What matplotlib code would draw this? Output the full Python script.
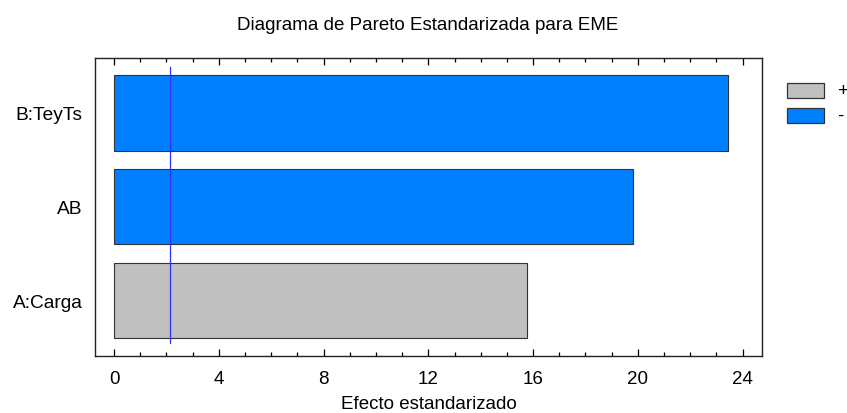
import matplotlib
matplotlib.use("Agg")
import matplotlib.pyplot as plt
from matplotlib.patches import Rectangle
from matplotlib.ticker import MultipleLocator

plt.rcParams["font.family"] = ["Liberation Sans", "DejaVu Sans"]

# standardized effects, smallest first so the largest sits on top
factors = ["A:Carga", "AB", "B:TeyTs"]
effects = [15.75, 19.83, 23.43]
signs = ["+", "-", "-"]
critical_t = 2.12

sign_colors = {"+": "#C0C0C0", "-": "#0080FF"}
edge = "#333333"
W, H = 847, 414

fig = plt.figure(figsize=(W / 100, H / 100), dpi=100)
ax = fig.add_axes([95 / W, 1 - 356.7 / H, (762 - 95) / W, (356.7 - 59) / H])

ypos = range(len(factors))
ax.barh(ypos, effects, height=0.8,
        color=[sign_colors[s] for s in signs], edgecolor=edge, linewidth=0.8)
ax.plot([critical_t, critical_t], [-0.45, 2.49], color="#3030FF", linewidth=0.9)

ax.set_xlim(-0.73, 24.74)
ax.set_ylim(-0.585, 2.585)
ax.set_yticks(list(ypos))
ax.set_yticklabels(factors, fontsize=13.8)
ax.xaxis.set_major_locator(MultipleLocator(4))
ax.xaxis.set_minor_locator(MultipleLocator(1))
ax.tick_params(axis="x", which="both", direction="in", top=True, labelsize=13.5, pad=10)
ax.tick_params(axis="x", which="major", length=5, width=0.9)
ax.tick_params(axis="x", which="minor", length=3, width=0.9)
ax.tick_params(axis="y", length=0, pad=9)
for sp in ax.spines.values():
    sp.set_linewidth(1.0)
    sp.set_color("#222222")

ax.set_xlabel("Efecto estandarizado", fontsize=13.5, labelpad=6)
fig.text(428 / W, 1 - 30 / H, "Diagrama de Pareto Estandarizada para EME",
         ha="center", va="baseline", fontsize=13.5)

# sign key to the right of the axes
for i, key in enumerate(["+", "-"]):
    top = 84 + 25 * i
    fig.add_artist(Rectangle((786.7 / W, 1 - (top + 15) / H), 37.6 / W, 15 / H,
                             transform=fig.transFigure, facecolor=sign_colors[key],
                             edgecolor=edge, linewidth=0.9))
    fig.text(837 / W, 1 - (top + 7.5) / H, key, ha="left", va="center", fontsize=13.5)

fig.savefig("out.png", dpi=100)
